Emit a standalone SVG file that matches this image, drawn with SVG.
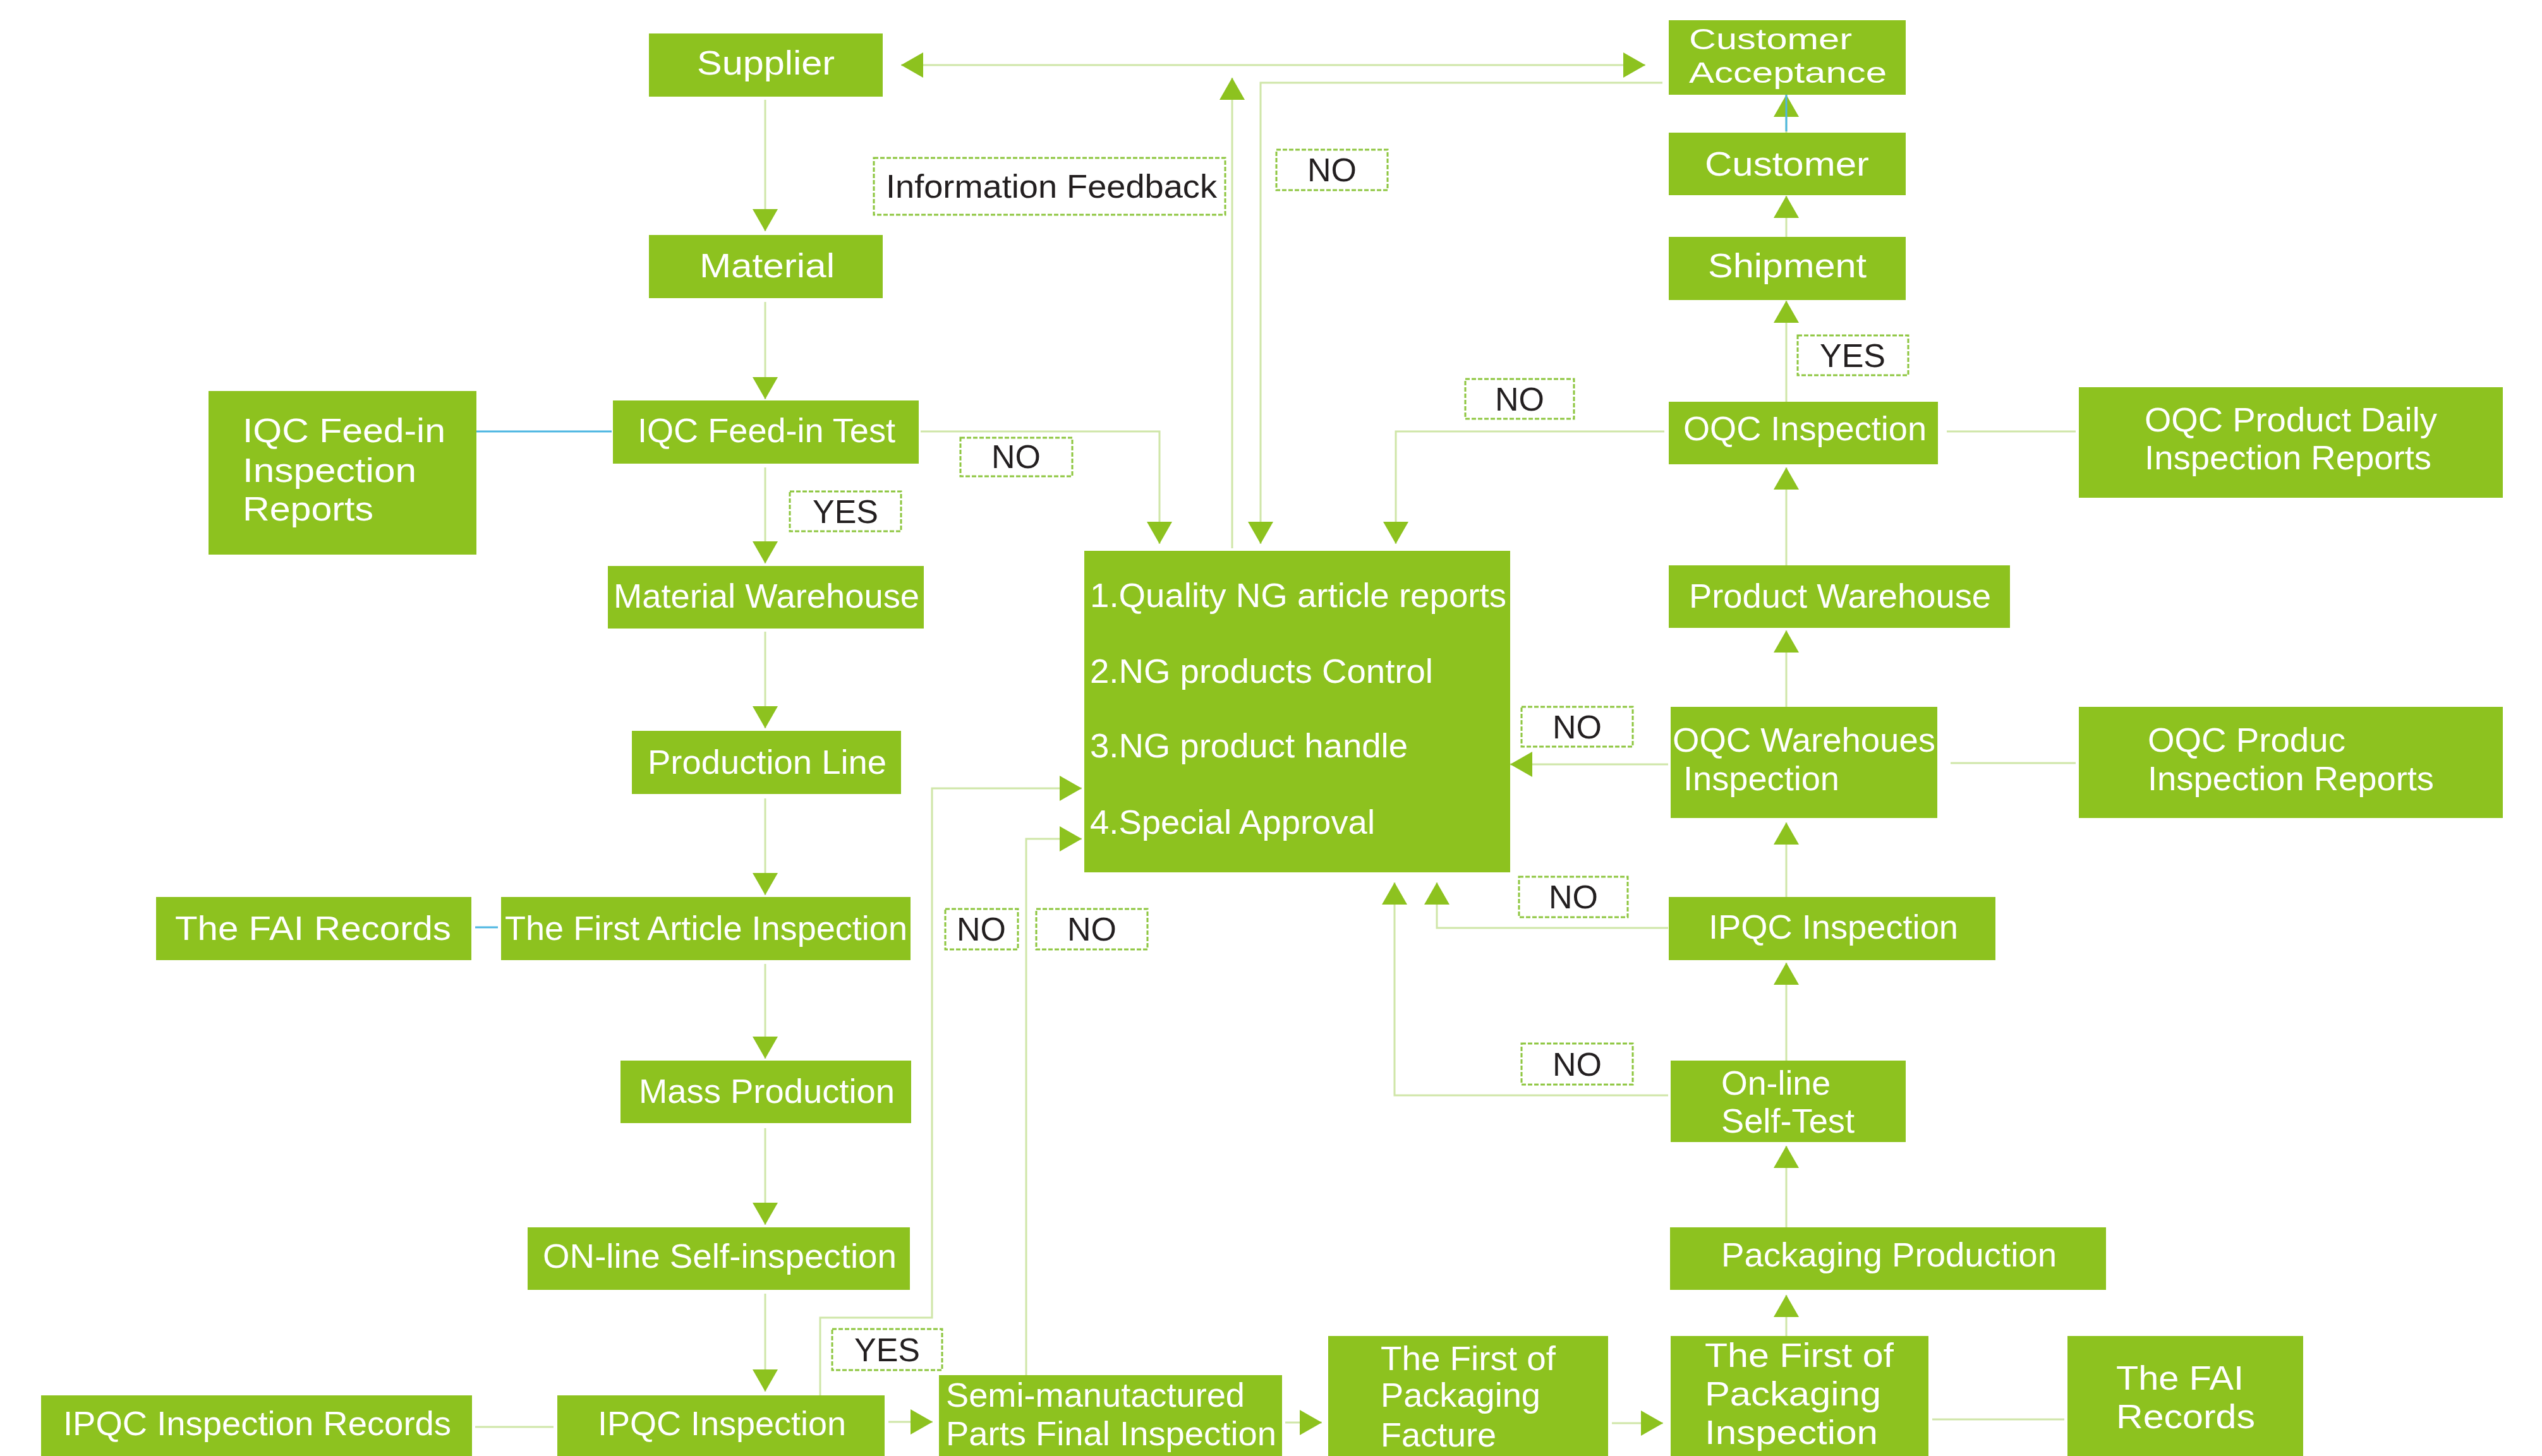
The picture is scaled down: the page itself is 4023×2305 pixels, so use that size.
<svg xmlns="http://www.w3.org/2000/svg" width="4023" height="2305" viewBox="0 0 4023 2305">
<style>
.box{fill:#8dc21f}
.t{fill:#ffffff;font-family:"Liberation Sans",Arial,sans-serif;font-size:54px}
.ts{font-size:46px}
.lb{fill:#ffffff;stroke:#8dc63f;stroke-width:3;stroke-dasharray:7 3}
.lt{fill:#231f20;font-family:"Liberation Sans",Arial,sans-serif;font-size:52px;text-anchor:middle}
.c{fill:none;stroke:#cfe6a8;stroke-width:3}
.a{marker-end:url(#ah)}
.blue{fill:none;stroke:#4db6e2;stroke-width:3}
</style>
<defs>
<marker id="ah" markerUnits="userSpaceOnUse" markerWidth="36" markerHeight="40" refX="35" refY="20" orient="auto-start-reverse"><path d="M0,0 L35,20 L0,40 Z" fill="#8dc21f"/></marker>
</defs>
<rect width="4023" height="2305" fill="#ffffff"/>
<g id="connectors">
<path class="c a" d="M1211,158 V366"/>
<path class="c a" d="M1211,478 V632"/>
<path class="c a" d="M1211,740 V892"/>
<path class="c a" d="M1211,1000 V1153"/>
<path class="c a" d="M1211,1264 V1417"/>
<path class="c a" d="M1211,1526 V1676"/>
<path class="c a" d="M1211,1786 V1939"/>
<path class="c a" d="M1211,2048 V2203"/>
<path class="c a" d="M1406,2251 H1476"/>
<path class="c a" d="M2034,2252 H2092"/>
<path class="c a" d="M2551,2253 H2632"/>
<path class="c a" d="M2827,2115 V2050"/>
<path class="c a" d="M2827,1943 V1814"/>
<path class="c a" d="M2827,1679 V1524"/>
<path class="c a" d="M2827,1420 V1302"/>
<path class="c a" d="M2827,1119 V998"/>
<path class="c a" d="M2827,895 V740"/>
<path class="c a" d="M2827,636 V476"/>
<path class="c a" d="M2827,375 V310"/>
<path class="c a" d="M2827,210 V150"/>
<path class="blue" d="M2827,143 V208"/>
<path class="c" d="M1426,103 H2604" marker-start="url(#ah)" marker-end="url(#ah)"/>
<path class="c a" d="M1950,868 V123"/>
<path class="c a" d="M2631,131 H1995 V861"/>
<path class="c a" d="M1457,683 H1835 V861"/>
<path class="c a" d="M2634,683 H2209 V861"/>
<path class="c a" d="M2640,1210 H2390"/>
<path class="c a" d="M2640,1469 H2274 V1397"/>
<path class="c a" d="M2640,1734 H2207 V1397"/>
<path class="c a" d="M1298,2209 V2086 H1475 V1248 H1712"/>
<path class="c a" d="M1624,2177 V1328 H1712"/>
<path class="blue" d="M754,683 H968"/>
<path class="blue" d="M752,1468 H788"/>
<path class="c" d="M752,2259 H876"/>
<path class="c" d="M3081,683 H3285"/>
<path class="c" d="M3087,1208 H3285"/>
<path class="c" d="M3058,2247 H3267"/>
</g>
<g id="supplier"><rect class="box" x="1027" y="53" width="370" height="100"/><text class="t" x="1103" y="118" textLength="218" lengthAdjust="spacingAndGlyphs">Supplier</text></g>
<g id="material"><rect class="box" x="1027" y="372" width="370" height="100"/><text class="t" x="1107" y="439" textLength="214" lengthAdjust="spacingAndGlyphs">Material</text></g>
<g id="iqc-feed-in-test"><rect class="box" x="970" y="634" width="484" height="100"/><text class="t" x="1009" y="700" textLength="408" lengthAdjust="spacingAndGlyphs">IQC Feed-in Test</text></g>
<g id="iqc-reports"><rect class="box" x="330" y="619" width="424" height="259"/><text class="t" x="384" y="700" textLength="321" lengthAdjust="spacingAndGlyphs">IQC Feed-in</text><text class="t" x="384" y="763" textLength="275" lengthAdjust="spacingAndGlyphs">Inspection</text><text class="t" x="384" y="824" textLength="207" lengthAdjust="spacingAndGlyphs">Reports</text></g>
<g id="material-warehouse"><rect class="box" x="962" y="896" width="500" height="99"/><text class="t" x="971" y="962" textLength="484" lengthAdjust="spacingAndGlyphs">Material Warehouse</text></g>
<g id="production-line"><rect class="box" x="1000" y="1157" width="426" height="100"/><text class="t" x="1025" y="1225" textLength="378" lengthAdjust="spacingAndGlyphs">Production Line</text></g>
<g id="first-article-inspection"><rect class="box" x="793" y="1420" width="648" height="100"/><text class="t" x="799" y="1488" textLength="637" lengthAdjust="spacingAndGlyphs">The First Article Inspection</text></g>
<g id="fai-records-left"><rect class="box" x="247" y="1420" width="499" height="100"/><text class="t" x="277" y="1488" textLength="437" lengthAdjust="spacingAndGlyphs">The FAI Records</text></g>
<g id="mass-production"><rect class="box" x="982" y="1679" width="460" height="99"/><text class="t" x="1011" y="1746" textLength="405" lengthAdjust="spacingAndGlyphs">Mass Production</text></g>
<g id="online-self-inspection"><rect class="box" x="835" y="1943" width="605" height="99"/><text class="t" x="859" y="2007" textLength="560" lengthAdjust="spacingAndGlyphs">ON-line Self-inspection</text></g>
<g id="ipqc-inspection-left"><rect class="box" x="882" y="2209" width="518" height="100"/><text class="t" x="946" y="2272" textLength="393" lengthAdjust="spacingAndGlyphs">IPQC Inspection</text></g>
<g id="ipqc-records"><rect class="box" x="65" y="2209" width="682" height="100"/><text class="t" x="100" y="2272" textLength="614" lengthAdjust="spacingAndGlyphs">IPQC Inspection Records</text></g>
<g id="semi-final-inspection"><rect class="box" x="1486" y="2177" width="543" height="130"/><text class="t" x="1497" y="2227" textLength="473" lengthAdjust="spacingAndGlyphs">Semi-manutactured</text><text class="t" x="1497" y="2288" textLength="523" lengthAdjust="spacingAndGlyphs">Parts Final Inspection</text></g>
<g id="first-packaging-facture"><rect class="box" x="2102" y="2115" width="443" height="192"/><text class="t" x="2185" y="2169" textLength="277" lengthAdjust="spacingAndGlyphs">The First of</text><text class="t" x="2185" y="2227" textLength="253" lengthAdjust="spacingAndGlyphs">Packaging</text><text class="t" x="2185" y="2290" textLength="183" lengthAdjust="spacingAndGlyphs">Facture</text></g>
<g id="first-packaging-inspection"><rect class="box" x="2644" y="2115" width="408" height="192"/><text class="t" x="2698" y="2164" textLength="299" lengthAdjust="spacingAndGlyphs">The First of</text><text class="t" x="2698" y="2225" textLength="279" lengthAdjust="spacingAndGlyphs">Packaging</text><text class="t" x="2698" y="2286" textLength="274" lengthAdjust="spacingAndGlyphs">Inspection</text></g>
<g id="fai-records-right"><rect class="box" x="3272" y="2115" width="373" height="192"/><text class="t" x="3349" y="2200" textLength="202" lengthAdjust="spacingAndGlyphs">The FAI</text><text class="t" x="3349" y="2261" textLength="220" lengthAdjust="spacingAndGlyphs">Records</text></g>
<g id="packaging-production"><rect class="box" x="2643" y="1943" width="690" height="99"/><text class="t" x="2724" y="2005" textLength="531" lengthAdjust="spacingAndGlyphs">Packaging Production</text></g>
<g id="online-self-test"><rect class="box" x="2644" y="1679" width="372" height="129"/><text class="t" x="2724" y="1733" textLength="173" lengthAdjust="spacingAndGlyphs">On-line</text><text class="t" x="2724" y="1793" textLength="211" lengthAdjust="spacingAndGlyphs">Self-Test</text></g>
<g id="ipqc-inspection-right"><rect class="box" x="2641" y="1420" width="517" height="100"/><text class="t" x="2704" y="1486" textLength="395" lengthAdjust="spacingAndGlyphs">IPQC Inspection</text></g>
<g id="oqc-warehouse-inspection"><rect class="box" x="2644" y="1119" width="422" height="176"/><text class="t" x="2647" y="1190" textLength="416" lengthAdjust="spacingAndGlyphs">OQC Warehoues</text><text class="t" x="2664" y="1251" textLength="247" lengthAdjust="spacingAndGlyphs">Inspection</text></g>
<g id="oqc-produc-reports"><rect class="box" x="3290" y="1119" width="671" height="176"/><text class="t" x="3399" y="1190" textLength="313" lengthAdjust="spacingAndGlyphs">OQC Produc</text><text class="t" x="3399" y="1251" textLength="453" lengthAdjust="spacingAndGlyphs">Inspection Reports</text></g>
<g id="product-warehouse"><rect class="box" x="2641" y="895" width="540" height="99"/><text class="t" x="2673" y="962" textLength="478" lengthAdjust="spacingAndGlyphs">Product Warehouse</text></g>
<g id="oqc-inspection"><rect class="box" x="2641" y="636" width="426" height="99"/><text class="t" x="2664" y="697" textLength="385" lengthAdjust="spacingAndGlyphs">OQC Inspection</text></g>
<g id="oqc-daily-reports"><rect class="box" x="3290" y="613" width="671" height="175"/><text class="t" x="3394" y="683" textLength="463" lengthAdjust="spacingAndGlyphs">OQC Product Daily</text><text class="t" x="3394" y="743" textLength="454" lengthAdjust="spacingAndGlyphs">Inspection Reports</text></g>
<g id="shipment"><rect class="box" x="2641" y="375" width="375" height="100"/><text class="t" x="2703" y="439" textLength="251" lengthAdjust="spacingAndGlyphs">Shipment</text></g>
<g id="customer"><rect class="box" x="2641" y="210" width="375" height="99"/><text class="t" x="2698" y="278" textLength="260" lengthAdjust="spacingAndGlyphs">Customer</text></g>
<g id="customer-acceptance"><rect class="box" x="2641" y="32" width="375" height="118"/><text class="t ts" x="2673" y="78" textLength="258" lengthAdjust="spacingAndGlyphs">Customer</text><text class="t ts" x="2673" y="131" textLength="313" lengthAdjust="spacingAndGlyphs">Acceptance</text></g>
<g id="ng-handling"><rect class="box" x="1716" y="872" width="674" height="509"/><text class="t" x="1725" y="961" textLength="659" lengthAdjust="spacingAndGlyphs">1.Quality NG article reports</text><text class="t" x="1725" y="1081" textLength="543" lengthAdjust="spacingAndGlyphs">2.NG products Control</text><text class="t" x="1725" y="1199" textLength="503" lengthAdjust="spacingAndGlyphs">3.NG product handle</text><text class="t" x="1725" y="1320" textLength="451" lengthAdjust="spacingAndGlyphs">4.Special Approval</text></g>
<g id="labels">
<rect class="lb" x="1383" y="250" width="556" height="90"/><text class="lt" x="1664" y="313" textLength="524" lengthAdjust="spacingAndGlyphs">Information Feedback</text>
<rect class="lb" x="2020" y="237" width="176" height="64"/><text class="lt" x="2108" y="287">NO</text>
<rect class="lb" x="1520" y="693" width="177" height="61"/><text class="lt" x="1608" y="741">NO</text>
<rect class="lb" x="1250" y="778" width="176" height="63"/><text class="lt" x="1338" y="828">YES</text>
<rect class="lb" x="2319" y="600" width="172" height="63"/><text class="lt" x="2405" y="650">NO</text>
<rect class="lb" x="2845" y="531" width="175" height="63"/><text class="lt" x="2932" y="581">YES</text>
<rect class="lb" x="2408" y="1119" width="176" height="63"/><text class="lt" x="2496" y="1169">NO</text>
<rect class="lb" x="2404" y="1388" width="172" height="64"/><text class="lt" x="2490" y="1438">NO</text>
<rect class="lb" x="1496" y="1439" width="115" height="64"/><text class="lt" x="1553" y="1489">NO</text>
<rect class="lb" x="1640" y="1439" width="176" height="64"/><text class="lt" x="1728" y="1489">NO</text>
<rect class="lb" x="2408" y="1652" width="176" height="65"/><text class="lt" x="2496" y="1703">NO</text>
<rect class="lb" x="1317" y="2104" width="174" height="65"/><text class="lt" x="1404" y="2155">YES</text>
</g>
</svg>
